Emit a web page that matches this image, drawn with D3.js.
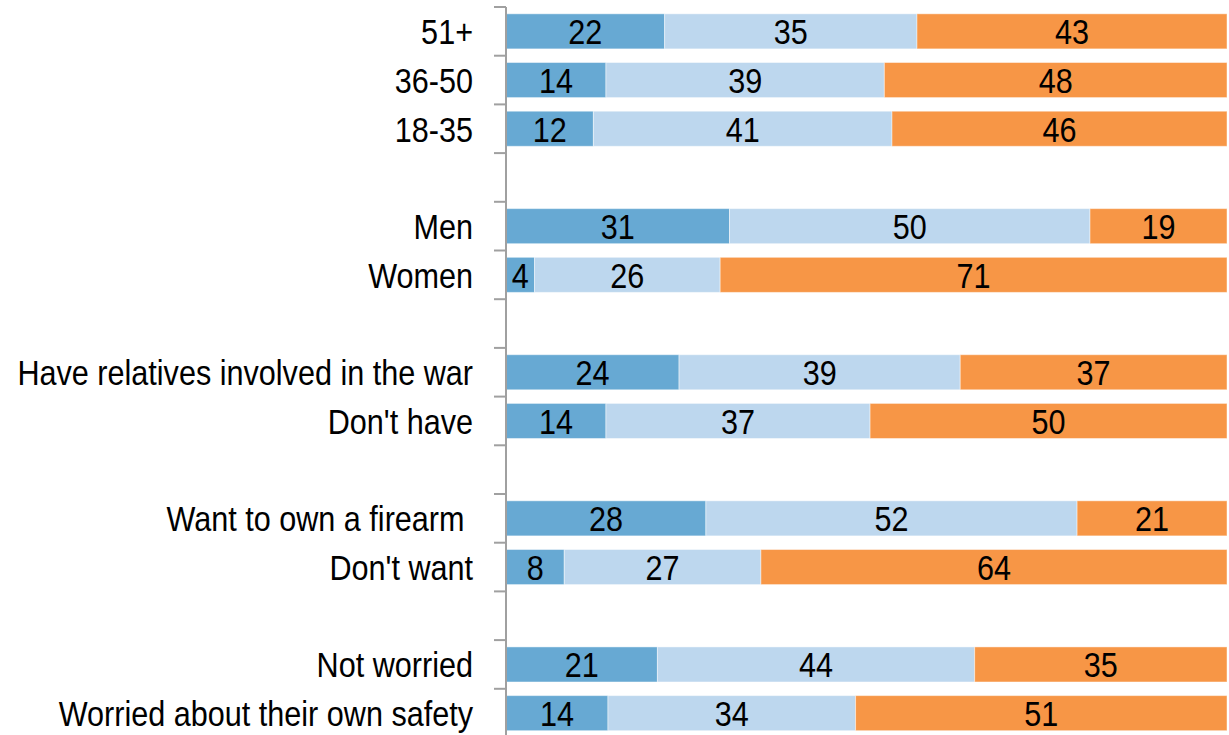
<!DOCTYPE html>
<html>
<head>
<meta charset="utf-8">
<script src="https://cdn.jsdelivr.net/npm/d3@7"></script>
<style>
  body { margin: 0; background: #fff; }
  svg { display: block; }
  text { font-family: "Liberation Sans Narrow", "Arial Narrow", "Liberation Sans", Arial, sans-serif; font-size: 36px; fill: #000; }
</style>
</head>
<body>
<script>
const width = 1229, height = 735;

// rows from top to bottom, "" = empty gap row
const categories = ["51+", "36-50", "18-35", "",
  "Men", "Women", "",
  "Have relatives involved in the war", "Don't have", "",
  "Want to own a firearm ", "Don't want", "",
  "Not worried", "Worried about their own safety"];
const seriesA = [22, 14, 12, null, 31, 4, null, 24, 14, null, 28, 8, null, 21, 14];
const seriesB = [35, 39, 41, null, 50, 26, null, 39, 37, null, 52, 27, null, 44, 34];
const seriesC = [43, 48, 46, null, 19, 71, null, 37, 50, null, 21, 64, null, 35, 51];
const colors = ["#67A9D3", "#BDD7EE", "#F79646"];

const narrow = 0.85; // no Arial Narrow installed, squeeze Liberation Sans instead

const svg = d3.select("body").append("svg")
  .attr("width", width)
  .attr("height", height);

const slots = d3.range(categories.length);
const axisX = 506;

const y = d3.scaleBand()
  .domain(slots)
  .range([7, 7 + 48.7 * slots.length])
  .padding(0);

const x = d3.scaleLinear()
  .domain([0, 1])
  .range([axisX, 1227]);

const barH = y.bandwidth() * 0.72;

// stacked rows (normalized to 100%)
const rows = slots.filter(i => categories[i] !== "").map(i => {
  const vals = [seriesA[i], seriesB[i], seriesC[i]];
  const total = d3.sum(vals);
  let acc = 0;
  const segs = vals.map((v, k) => {
    const s = { k: k, v: v, x0: acc / total, x1: (acc + v) / total };
    acc += v;
    return s;
  });
  return { i: i, segs: segs };
});

const rowG = svg.selectAll("g.row")
  .data(rows)
  .enter().append("g")
  .attr("class", "row")
  .attr("transform", d => `translate(0, ${y(d.i) + (y.bandwidth() - barH) / 2})`);

rowG.selectAll("rect")
  .data(d => d.segs)
  .enter().append("rect")
  .attr("x", d => x(d.x0))
  .attr("width", d => x(d.x1) - x(d.x0))
  .attr("y", 0)
  .attr("height", barH)
  .attr("fill", d => colors[d.k])
  .attr("stroke", "rgba(255,255,255,0.45)")
  .attr("stroke-width", 1);

rowG.selectAll("text")
  .data(d => d.segs)
  .enter().append("text")
  .attr("transform", d => `translate(${(x(d.x0) + x(d.x1)) / 2}, ${barH / 2}) scale(${narrow}, 1)`)
  .attr("dy", "0.36em")
  .attr("text-anchor", "middle")
  .text(d => d.v);

// category labels
svg.selectAll("text.cat")
  .data(slots.filter(i => categories[i] !== ""))
  .enter().append("text")
  .attr("class", "cat")
  .attr("transform", i => `translate(473, ${y(i) + y.bandwidth() / 2}) scale(${narrow}, 1)`)
  .attr("dy", "0.36em")
  .attr("text-anchor", "end")
  .style("white-space", "pre")
  .text(i => categories[i]);

// vertical axis with ticks between rows
svg.append("line")
  .attr("x1", axisX).attr("x2", axisX)
  .attr("y1", y(0)).attr("y2", height + 5)
  .attr("stroke", "#A0A0A0")
  .attr("stroke-width", 2);

const tickYs = slots.map(i => y(i));
svg.selectAll("line.tick")
  .data(tickYs)
  .enter().append("line")
  .attr("class", "tick")
  .attr("x1", axisX - 12).attr("x2", axisX)
  .attr("y1", d => d).attr("y2", d => d)
  .attr("stroke", "#A0A0A0")
  .attr("stroke-width", 2);
</script>
</body>
</html>
